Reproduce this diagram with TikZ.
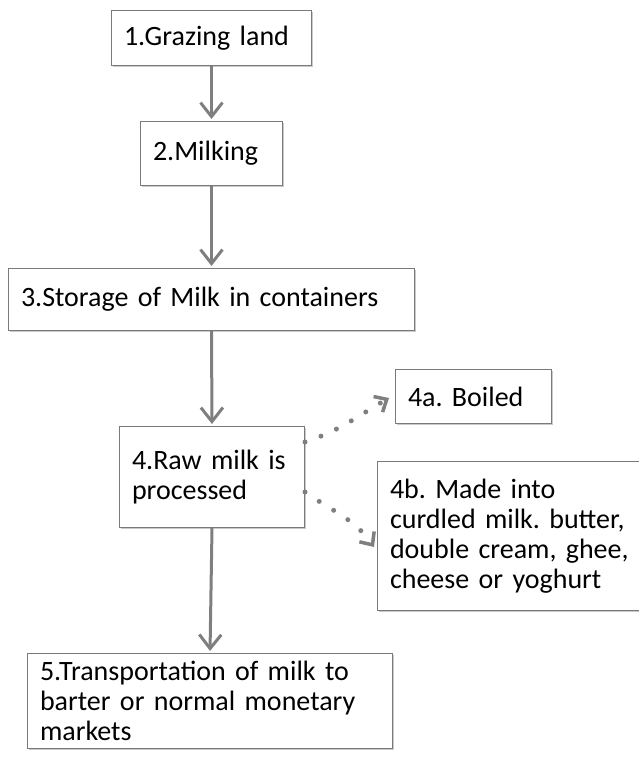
\documentclass[tikz,border=0pt]{standalone}
\usepackage{fontspec}
\setmainfont{Carlito}
\usetikzlibrary{arrows.meta,shadows}
\definecolor{arrgray}{HTML}{7F7F7F}
\definecolor{boxline}{HTML}{7A7A7A}
\tikzset{
  stepbox/.style args={#1/#2}{draw=boxline, line width=1pt, fill=white, rectangle,
    anchor=north west, minimum width=#1pt, minimum height=#2pt,
    text width=#1pt-25pt, inner xsep=12.5pt, inner ysep=0pt, align=left,
    font=\fontsize{28pt}{30pt}\selectfont\frenchspacing,
    drop shadow={shadow xshift=1.5pt, shadow yshift=-1.5pt, opacity=0.35, fill=black!60}},
  mainarrow/.style={draw=arrgray, line width=3pt, shorten >=2pt,
    -{Straight Barb[length=14pt,width=22pt,line width=3pt]}},
  dotarrow/.style={draw=arrgray, line width=5pt, line cap=round,
    dash pattern=on 0pt off 17pt,
    -{Straight Barb[length=10pt,width=18pt,line width=3.5pt]}}
}
\begin{document}
\begin{tikzpicture}[x=1pt,y=-1pt]
\useasboundingbox (0,0) rectangle (638,760);
\node[stepbox=200/55] (n1) at (111,10) {1.Grazing land};
\node[stepbox=142/64] (n2) at (140,121) {2.Milking};
\node[stepbox=406/62] (n3) at (8,268) {3.Storage of Milk in containers};
\node[stepbox=185/101] (n4) at (119,426) {4.Raw milk is\\processed};
\node[stepbox=156/54] (n4a) at (395,369) {4a. Boiled};
\node[stepbox=275/149] (n4b) at (377,461) {4b. Made into\\curdled milk. butter,\\double cream, ghee,\\cheese or yoghurt};
\node[stepbox=365/95] (n5) at (27,653) {5.Transportation of milk to\\barter or normal monetary\\markets};
\coordinate (s4a) at ([yshift=-16pt]n4.north east);
\coordinate (s4b) at ([yshift=-66pt]n4.north east);
\coordinate (e4a) at (389,398);
\coordinate (e4b) at (374,547);
\draw[mainarrow] (n1.south) -- (n2.north);
\draw[mainarrow] (n2.south) -- (n3.north);
\draw[mainarrow] (n3.south) -- (n4.north);
\draw[mainarrow] (n4.south) -- (n5.north);
\draw[dotarrow] (s4a) to[out=18,in=-150] (e4a);
\draw[dotarrow] (s4b) to[out=-35,in=125] (e4b);
\end{tikzpicture}
\end{document}
